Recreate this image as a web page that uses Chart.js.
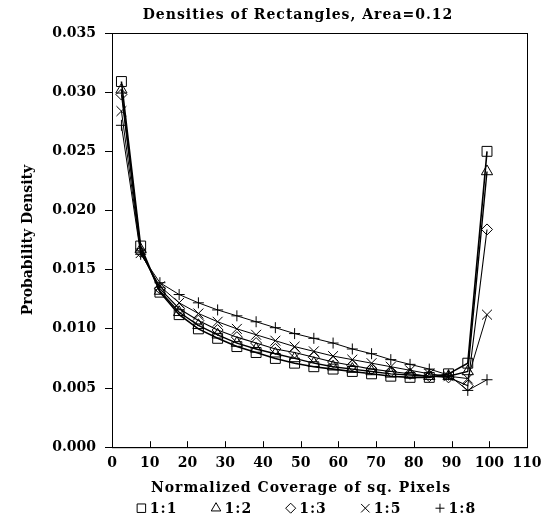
<!DOCTYPE html>
<html>
<head>
<meta charset="utf-8">
<script src="https://cdn.jsdelivr.net/npm/chart.js@4/dist/chart.umd.min.js"></script>
<style>
  html, body { margin: 0; padding: 0; background: #fff; }
  #wrap { width: 550px; height: 519px; }
</style>
</head>
<body>
<div id="wrap"><canvas id="densityChart"></canvas></div>
<script>
// coverage bins (x)
const coverage = [2.5, 7.6, 12.7, 17.8, 22.9, 28, 33.1, 38.2, 43.3, 48.4,
                  53.5, 58.6, 63.7, 68.8, 73.9, 79, 84.1, 89.2, 94.3, 99.4];

// probability density per aspect ratio
const ratio11 = [0.0309, 0.0170, 0.0131, 0.0112, 0.0100, 0.0092, 0.0085, 0.0080, 0.0075, 0.0071,
                 0.0068, 0.0066, 0.0064, 0.0062, 0.0060, 0.0059, 0.0059, 0.0062, 0.0071, 0.0250];
const ratio12 = [0.0302, 0.0167, 0.0132, 0.0114, 0.0103, 0.0095, 0.0088, 0.0083, 0.0079, 0.0075,
                 0.0071, 0.0068, 0.0066, 0.0064, 0.0062, 0.0061, 0.0060, 0.0060, 0.0064, 0.0233];
const ratio13 = [0.0298, 0.0165, 0.0134, 0.0117, 0.0107, 0.0099, 0.0093, 0.0088, 0.0083, 0.0080,
                 0.0076, 0.0072, 0.0069, 0.0066, 0.0064, 0.0062, 0.0060, 0.0059, 0.0052, 0.0184];
const ratio15 = [0.0284, 0.0164, 0.0136, 0.0122, 0.0113, 0.0106, 0.0100, 0.0095, 0.0090, 0.0085,
                 0.0081, 0.0077, 0.0074, 0.0071, 0.0068, 0.0065, 0.0062, 0.0060, 0.0058, 0.0112];
const ratio18 = [0.0272, 0.0163, 0.0139, 0.0129, 0.0122, 0.0116, 0.0111, 0.0106, 0.0101, 0.0096,
                 0.0092, 0.0088, 0.0083, 0.0079, 0.0074, 0.0070, 0.0066, 0.0061, 0.0048, 0.0057];

const yTicks = [0, 0.005, 0.010, 0.015, 0.020, 0.025, 0.030, 0.035];
const xTicks = [0, 10, 20, 30, 40, 50, 60, 70, 80, 90, 100, 110];

const chartTitle = "Densities of Rectangles, Area=0.12";
const xTitle = "Normalized Coverage of sq. Pixels";
const yTitle = "Probability Density";

const FONT = "'DejaVu Serif', serif";

function pts(ys) {
    return coverage.map((x, i) => ({ x: x, y: ys[i] }));
}

function series(label, ys, style, radius, width) {
    return {
        label: label,
        data: pts(ys),
        borderColor: "#000",
        borderWidth: width,
        pointStyle: style,
        pointRadius: radius,
        pointBorderColor: "#000",
        pointBorderWidth: 1,
        pointBackgroundColor: "rgba(255,255,255,0)",
        backgroundColor: "rgba(255,255,255,0)",
        tension: 0,
        fill: false
    };
}

// frame round the plot + x ticks pointing inwards
const framePlugin = {
    id: "frame",
    afterDraw(chart) {
        const { ctx, chartArea: a, scales } = chart;
        ctx.save();
        ctx.strokeStyle = "#000";
        ctx.lineWidth = 1;
        ctx.strokeRect(a.left + 0.5, a.top + 0.5, a.right - a.left, a.bottom - a.top);
        ctx.beginPath();
        xTicks.forEach(v => {
            const px = Math.round(scales.x.getPixelForValue(v)) + 0.5;
            ctx.moveTo(px, a.bottom);
            ctx.lineTo(px, a.bottom - 6);
        });
        ctx.stroke();
        ctx.restore();
    }
};

// title, x axis title and legend, centred a bit left of the plot like the original
const textPlugin = {
    id: "texts",
    afterDraw(chart) {
        const { ctx, chartArea: a } = chart;
        ctx.save();
        ctx.fillStyle = "#000";
        ctx.strokeStyle = "#000";
        ctx.font = "bold 14px " + FONT;
        ctx.letterSpacing = "1px";
        ctx.textBaseline = "middle";
        ctx.textAlign = "center";
        ctx.fillText(chartTitle, 298, a.top - 18);
        ctx.fillText(xTitle, 301, a.bottom + 41);

        // legend
        const legY = a.bottom + 61;
        const items = chart.data.datasets.map(ds => ({
            text: ds.label,
            style: ds.pointStyle,
            w: ctx.measureText(ds.label).width
        }));
        const markW = 11, gap = 3, itemGap = 33;
        const total = items.reduce((s, it) => s + markW + gap + it.w, 0) + itemGap * (items.length - 1);
        let x = 306 - total / 2;
        const radius = { rect: 6, triangle: 5.5, rectRot: 5, crossRot: 6, cross: 4.5 };
        ctx.textAlign = "left";
        items.forEach(it => {
            ctx.lineWidth = 1;
            ctx.fillStyle = "#fff";
            Chart.helpers.drawPoint(ctx, { pointStyle: it.style, radius: radius[it.style], borderWidth: 1 },
                x + markW / 2, legY);
            ctx.fillStyle = "#000";
            ctx.fillText(it.text, x + markW + gap, legY + 1);
            x += markW + gap + it.w + itemGap;
        });
        ctx.restore();
    }
};

new Chart(document.getElementById("densityChart"), {
    type: "line",
    data: {
        datasets: [
            series("1:1", ratio11, "rect", 7, 1.6),
            series("1:2", ratio12, "triangle", 6.5, 1.4),
            series("1:3", ratio13, "rectRot", 5.5, 1.1),
            series("1:5", ratio15, "crossRot", 7, 1),
            series("1:8", ratio18, "cross", 5.5, 1)
        ]
    },
    options: {
        responsive: true,
        maintainAspectRatio: false,
        animation: false,
        layout: { padding: { left: 0, right: 23, top: 33, bottom: 39 } },
        plugins: {
            title: { display: false },
            legend: { display: false },
            tooltip: { enabled: false }
        },
        scales: {
            x: {
                type: "linear",
                min: 0,
                max: 110,
                afterBuildTicks: s => { s.ticks = xTicks.map(v => ({ value: v })); },
                grid: { drawOnChartArea: false, drawTicks: false },
                border: { color: "#000" },
                ticks: {
                    color: "#000",
                    padding: 8,
                    font: { family: FONT, size: 14, weight: "bold" },
                    maxRotation: 0
                }
            },
            y: {
                min: 0,
                max: 0.035,
                afterBuildTicks: s => { s.ticks = yTicks.map(v => ({ value: v })); },
                afterFit: s => { s.width = 112; },
                grid: { drawOnChartArea: false, color: "#000", tickLength: 7 },
                border: { color: "#000" },
                ticks: {
                    color: "#000",
                    padding: 9,
                    font: { family: FONT, size: 14, weight: "bold" },
                    callback: v => v.toFixed(3)
                },
                title: {
                    display: true,
                    text: yTitle,
                    color: "#000",
                    font: { family: FONT, size: 14, weight: "bold" },
                    padding: { top: 20, bottom: 0 }
                }
            }
        }
    },
    plugins: [framePlugin, textPlugin]
});
</script>
</body>
</html>
